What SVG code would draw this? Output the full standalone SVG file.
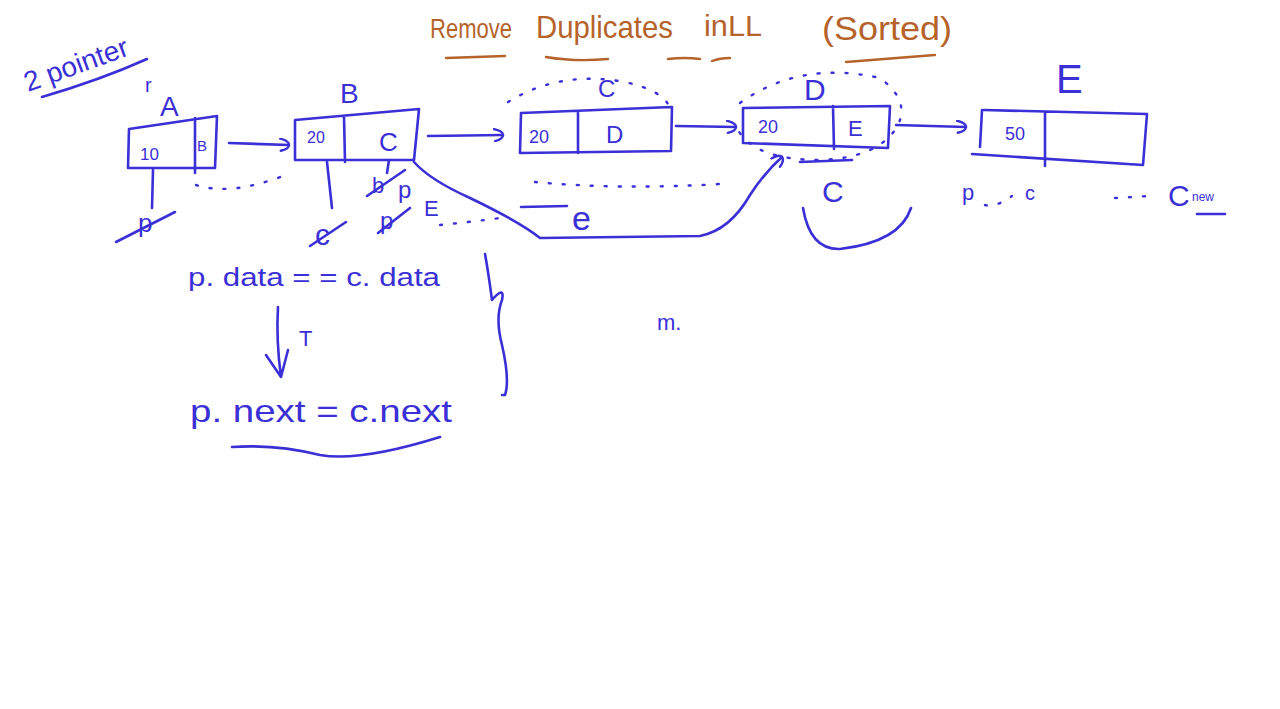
<svg xmlns="http://www.w3.org/2000/svg" width="1280" height="709" viewBox="0 0 1280 709">
<defs>
<style>
.b{fill:none;stroke:#3b2fd6;stroke-width:2.6;stroke-linecap:round;stroke-linejoin:round}
.o{fill:none;stroke:#b5632a;stroke-width:2.4;stroke-linecap:round}
.dot{fill:none;stroke:#3b2fd6;stroke-width:2.4;stroke-linecap:round;stroke-dasharray:2 12}
.t{font-family:"Liberation Sans",Arial,sans-serif;fill:#3b2fd6}
.tt{font-family:"Liberation Sans",Arial,sans-serif;fill:#b5632a}
</style>
<marker id="hk" viewBox="0 0 12 14" refX="10" refY="7" markerWidth="12" markerHeight="14" markerUnits="userSpaceOnUse" orient="auto">
<path d="M1,1 Q10,3 10,7 Q10,11 2,13" fill="none" stroke="#3b2fd6" stroke-width="2.4" stroke-linecap="round"/>
</marker>
</defs>
<rect width="1280" height="709" fill="#fff"/>

<g id="title">
<text class="tt" x="430" y="38" font-size="28" textLength="82" lengthAdjust="spacingAndGlyphs">Remove</text>
<text class="tt" x="536" y="38" font-size="32" textLength="137" lengthAdjust="spacingAndGlyphs">Duplicates</text>
<text class="tt" x="704" y="36" font-size="30" textLength="58" lengthAdjust="spacingAndGlyphs">inLL</text>
<text class="tt" x="822" y="40" font-size="34" textLength="130" lengthAdjust="spacingAndGlyphs">(Sorted)</text>
<path class="o" d="M446,58 L505,56 M546,57 Q575,62 608,59 M668,59 Q685,57 700,59 M712,61 Q720,58 730,58 M846,62 L935,55"/>
</g>

<g id="label-2pointer">
<text class="t" x="28" y="92" font-size="28" transform="rotate(-20 28 92)">2 pointer</text>
<path class="b" d="M42,97 Q100,80 147,59"/>
</g>

<g id="node-A">
<path class="b" d="M129,129 L217,116 L215,168 L128,168 Z M195,118 L195,173"/>
<text class="t" x="140" y="160" font-size="17">10</text>
<text class="t" x="197" y="151" font-size="15">B</text>
<text class="t" x="160" y="116" font-size="28">A</text>
<text class="t" x="145" y="92" font-size="20">r</text>
<path class="b" d="M153,170 L152,208"/>
<text class="t" x="138" y="232" font-size="26">p</text>
<path class="b" d="M116,242 L175,212"/>
</g>

<g id="node-B">
<path class="b" d="M295,120 L419,109 L414,160 L295,160 Z M344,116 L345,162"/>
<text class="t" x="307" y="143" font-size="16">20</text>
<text class="t" x="379" y="151" font-size="26">C</text>
<text class="t" x="340" y="103" font-size="28">B</text>
<path class="b" d="M327,162 L332,208"/>
<text class="t" x="315" y="245" font-size="30">c</text>
<path class="b" d="M310,246 L346,222"/>
<path class="b" d="M389,160 L387,173"/>
<text class="t" x="372" y="193" font-size="22">b</text>
<path class="b" d="M367,196 L405,170"/>
<text class="t" x="398" y="198" font-size="24">p</text>
<text class="t" x="380" y="229" font-size="24">p</text>
<path class="b" d="M378,233 L410,208"/>
<text class="t" x="424" y="216" font-size="22">E</text>
</g>

<g id="node-C">
<path class="b" d="M521,113 L672,107 L671,151 L520,153 Z M578,113 L578,153"/>
<text class="t" x="529" y="143" font-size="18">20</text>
<text class="t" x="606" y="143" font-size="24">D</text>
<text class="t" x="598" y="97" font-size="24">C</text>
<path class="dot" d="M508,102 Q560,70 625,82 Q660,90 668,104"/>
</g>

<g id="node-D">
<path class="b" d="M743,108 L890,106 L888,148 L743,143 Z M833,106 L834,149"/>
<text class="t" x="758" y="133" font-size="18">20</text>
<text class="t" x="848" y="136" font-size="22">E</text>
<text class="t" x="804" y="100" font-size="30">D</text>
<path class="dot" d="M740,103 Q800,60 880,78 Q910,100 898,125 Q880,158 820,160 Q755,160 738,130"/>
<path class="b" d="M800,162 L852,160"/>
<text class="t" x="822" y="202" font-size="30">C</text>
<path class="b" d="M803,208 Q810,250 840,249 Q900,242 911,208"/>
</g>

<g id="node-E">
<path class="b" d="M984,110 L1147,114 L1143,165 L972,154 M982,110 L980,147 M1045,112 L1045,166"/>
<text class="t" x="1005" y="140" font-size="18">50</text>
<text class="t" x="1056" y="93" font-size="40">E</text>
<text class="t" x="962" y="200" font-size="22">p</text>
<text class="t" x="1025" y="200" font-size="20">c</text>
<text class="t" x="1168" y="206" font-size="30">C</text>
<text class="t" x="1192" y="201" font-size="12">new</text>
<path class="b" d="M1197,214 L1225,214"/>
<path class="dot" d="M985,205 Q995,208 1012,196"/>
<path class="dot" d="M1115,198 L1150,196"/>
</g>

<g id="connectors">
<path class="b" d="M229,143 L289,145" marker-end="url(#hk)"/>
<path class="b" d="M428,136 L503,135" marker-end="url(#hk)"/>
<path class="b" d="M676,126 L736,127" marker-end="url(#hk)"/>
<path class="b" d="M896,125 L966,127" marker-end="url(#hk)"/>
<path class="b" d="M414,162 Q430,180 470,198 Q520,222 540,238 L700,236 Q730,230 750,195 Q765,172 782,157" marker-end="url(#hk)"/>
<path class="dot" d="M196,185 Q230,196 283,176"/>
<path class="dot" d="M440,225 Q470,222 500,218"/>
<path class="dot" d="M535,182 Q620,190 720,184"/>
<path class="b" d="M521,207 L567,206"/>
<text class="t" x="572" y="230" font-size="34">e</text>
</g>

<g id="condition">
<text class="t" x="188" y="286" font-size="25" textLength="252" lengthAdjust="spacingAndGlyphs">p. data = = c. data</text>
<path class="b" d="M278,307 Q276,340 281,377 M266,355 L281,377 L288,350"/>
<text class="t" x="299" y="346" font-size="22">T</text>
<text class="t" x="190" y="422" font-size="32" textLength="262" lengthAdjust="spacingAndGlyphs">p. next = c.next</text>
<path class="b" d="M232,447 Q275,444 320,455 Q360,462 440,437"/>
<path class="b" d="M485,254 Q488,270 492,300 Q505,285 502,300 Q495,318 502,345 Q510,380 505,395 L502,395"/>
<text class="t" x="657" y="330" font-size="22">m.</text>
</g>
</svg>
